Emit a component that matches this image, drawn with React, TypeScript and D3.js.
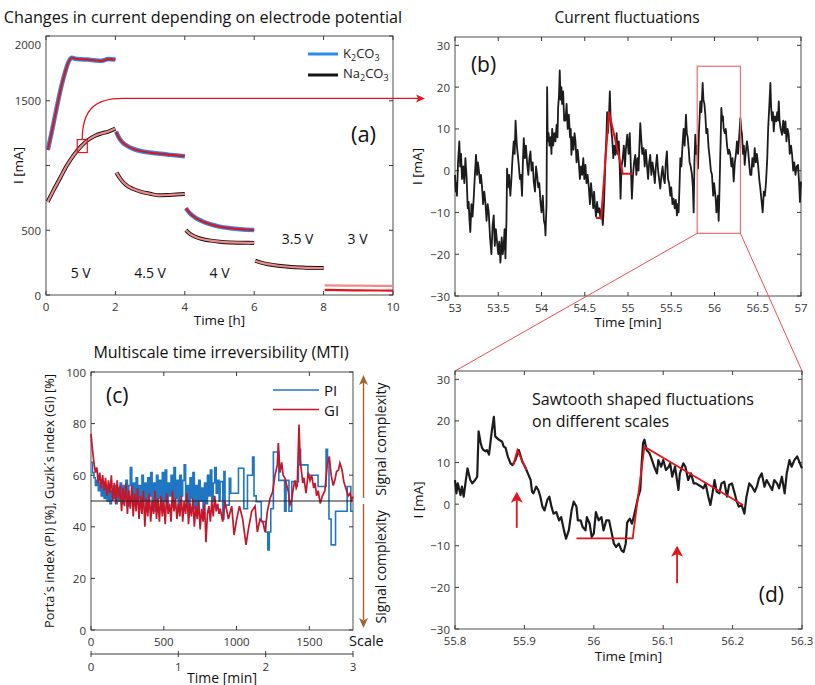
import React from 'react';
import * as d3 from 'd3';

type Pt = [number, number];

const FONT = '"Open Sans", "Noto Sans", "DejaVu Sans", sans-serif';

// ---------- panel (a): current at stepped electrode potentials ----------
const timeTicksA = [0, 2, 4, 6, 8, 10];
const currentTicksA = [0, 500, 1000, 1500, 2000];
const currentLabelsA = ['0', '500', '', '1500', '2000'];
const potentialNames = ['5 V', '4.5 V', '4 V', '3.5 V', '3 V'];

const k2co3_5V: Pt[] = [[0.05, 1119], [0.15, 1240], [0.25, 1370], [0.35, 1500], [0.45, 1620], [0.55, 1720], [0.65, 1800], [0.75, 1832], [0.85, 1824], [1.0, 1820], [1.2, 1818], [1.4, 1812], [1.6, 1808], [1.8, 1822], [2.0, 1818]];
const k2co3_45V: Pt[] = [[2.02, 1262], [2.1, 1215], [2.2, 1180], [2.35, 1150], [2.5, 1130], [2.75, 1110], [3.0, 1100], [3.3, 1090], [3.6, 1082], [4.0, 1072]];
const k2co3_4V: Pt[] = [[4.03, 670], [4.15, 630], [4.3, 598], [4.5, 570], [4.75, 545], [5.0, 528], [5.3, 516], [5.6, 508], [6.0, 502]];
const k2co3_35V: Pt[] = [[6.03, 262], [6.2, 247], [6.4, 235], [6.7, 223], [7.0, 215], [7.4, 209], [8.0, 205]];
const k2co3_3V: Pt[] = [[8.03, 40], [9.0, 36], [10.0, 34]];

const na2co3_5V: Pt[] = [[0.05, 720], [0.2, 800], [0.4, 900], [0.6, 1000], [0.8, 1080], [1.0, 1145], [1.2, 1195], [1.4, 1228], [1.6, 1248], [1.8, 1262], [2.0, 1285]];
const na2co3_45V: Pt[] = [[2.03, 945], [2.15, 895], [2.3, 852], [2.5, 820], [2.75, 796], [3.0, 782], [3.25, 770], [3.5, 772], [3.75, 776], [4.0, 780]];
const na2co3_4V: Pt[] = [[4.03, 500], [4.15, 472], [4.3, 450], [4.5, 432], [4.75, 420], [5.0, 412], [5.3, 406], [5.6, 404], [6.0, 402]];
const na2co3_35V: Pt[] = [[6.03, 265], [6.2, 250], [6.4, 238], [6.7, 226], [7.0, 218], [7.4, 212], [8.0, 208]];
const na2co3_3V: Pt[] = [[8.03, 75], [9.0, 72], [10.0, 70]];

// ---------- panel (b): current fluctuations ----------
const timeTicksB = [53, 53.5, 54, 54.5, 55, 55.5, 56, 56.5, 57];
const currentTicksBD = [-30, -20, -10, 0, 10, 20, 30];
const fluctB: Pt[] = [[53.000,-1],[53.008,-5],[53.015,-3],[53.023,-6],[53.035,2],[53.050,7],[53.060,1],[53.070,4],[53.081,-2],[53.095,1],[53.108,-3],[53.120,3],[53.135,-2],[53.147,-9],[53.158,-7.5],[53.168,-12],[53.177,-14.7],[53.190,-8],[53.203,-11],[53.216,-6.7],[53.230,-1],[53.243,3.8],[53.255,-1],[53.265,2],[53.274,0.5],[53.290,-3],[53.300,-1],[53.313,-4],[53.325,-8],[53.338,-5],[53.351,-7.5],[53.365,-12],[53.378,-8],[53.390,-10],[53.405,-16],[53.421,-20],[53.435,-13],[53.448,-10.7],[53.460,-18],[53.472,-14],[53.486,-17],[53.500,-20],[53.512,-17],[53.525,-22],[53.540,-16],[53.552,-20],[53.563,-18],[53.573,-14],[53.583,-21],[53.595,-12],[53.602,0.5],[53.612,-4],[53.625,-1],[53.640,-6],[53.652,-2],[53.665,3],[53.679,7],[53.690,4],[53.700,12],[53.715,6],[53.725,4],[53.737,1.4],[53.750,-2],[53.762,-1],[53.775,-6],[53.785,2],[53.795,7.8],[53.808,3],[53.820,6],[53.833,2],[53.848,-1],[53.860,3],[53.872,4.6],[53.885,0],[53.898,2],[53.910,-2.6],[53.925,-5],[53.937,1],[53.949,-1],[53.962,-4],[53.975,-3],[53.988,-7.5],[54.000,-10],[54.015,-6],[54.028,-12],[54.040,-13],[54.046,-15.5],[54.058,-8],[54.065,20],[54.072,7],[54.082,9],[54.092,6],[54.105,8],[54.115,4],[54.123,10],[54.135,6],[54.148,9],[54.161,7],[54.175,11],[54.185,8],[54.192,15],[54.202,18],[54.211,24],[54.220,17],[54.230,20],[54.238,16],[54.250,19],[54.262,12],[54.277,12],[54.290,16],[54.303,10],[54.316,13.4],[54.330,8],[54.338,10],[54.346,3.8],[54.358,8],[54.370,5],[54.382,9],[54.393,7],[54.405,2],[54.418,5],[54.431,2],[54.444,-2],[54.457,1],[54.470,-1],[54.483,3],[54.495,-2],[54.508,1.4],[54.520,-3],[54.533,-1],[54.547,-4],[54.560,-8],[54.572,-3],[54.586,-6],[54.598,-9],[54.608,-5],[54.617,-8],[54.630,-11],[54.643,-7.5],[54.655,-10],[54.668,-9],[54.682,-11.5],[54.695,-9],[54.709,-13],[54.722,-8],[54.732,-2],[54.740,3.8],[54.750,8],[54.759,14],[54.768,9],[54.780,13],[54.790,19],[54.800,12],[54.810,9],[54.817,7.8],[54.830,3],[54.842,6],[54.856,3.8],[54.868,9],[54.880,4],[54.894,7],[54.904,1],[54.914,-6.7],[54.925,1],[54.940,3],[54.952,6],[54.965,1],[54.975,5],[54.991,8.6],[55.007,4],[55.020,9],[55.033,1],[55.045,-6.7],[55.058,-1],[55.070,2],[55.084,3.8],[55.097,-1],[55.110,3],[55.122,0],[55.132,6],[55.142,11.4],[55.152,8],[55.165,4],[55.180,5.4],[55.193,1],[55.206,5],[55.219,1.4],[55.232,-2],[55.245,2],[55.257,3.8],[55.270,-1],[55.283,2],[55.296,0],[55.310,-3],[55.322,1],[55.335,3.8],[55.348,0],[55.360,-2],[55.373,-4.3],[55.387,-1],[55.400,1],[55.412,-1.8],[55.425,-3],[55.437,2],[55.450,4.6],[55.462,-2],[55.475,-3],[55.489,-6],[55.500,-4],[55.514,-8],[55.527,-6.7],[55.540,-9],[55.553,-7],[55.566,-10.7],[55.575,-8],[55.585,-10],[55.595,-4],[55.605,3],[55.617,1],[55.630,6],[55.643,10],[55.655,6],[55.670,13.4],[55.680,9],[55.690,8],[55.701,5.4],[55.712,2],[55.725,1],[55.740,-1],[55.750,-4],[55.759,-10],[55.768,2],[55.778,8.6],[55.790,4],[55.800,6],[55.809,0.5],[55.820,9],[55.836,16.6],[55.848,14],[55.863,21],[55.872,17],[55.883,16],[55.894,13.4],[55.905,9],[55.918,10],[55.932,5.4],[55.945,3],[55.958,0],[55.971,-1],[55.985,-6],[55.995,-3],[56.002,-4.3],[56.015,-7],[56.022,-10],[56.029,-8.3],[56.040,-6],[56.048,-12],[56.055,-7],[56.065,2],[56.072,8],[56.079,15],[56.090,12],[56.098,13],[56.106,10],[56.118,9],[56.130,10],[56.145,6],[56.158,4],[56.170,5],[56.183,3.8],[56.195,1],[56.208,3],[56.222,-2.6],[56.235,2],[56.248,4],[56.260,7],[56.272,4],[56.285,8],[56.299,12.6],[56.308,10],[56.318,8.6],[56.330,4],[56.340,6],[56.349,1.4],[56.360,4],[56.375,7],[56.388,5],[56.400,2],[56.413,-1],[56.426,-1],[56.438,3],[56.452,1],[56.465,5.4],[56.478,2],[56.490,4],[56.504,1.4],[56.517,-2],[56.530,-4.3],[56.543,-7],[56.557,-10],[56.570,-5],[56.583,-6],[56.596,-2.6],[56.610,3],[56.620,10],[56.630,14],[56.646,21],[56.655,15],[56.665,12],[56.675,14],[56.685,9.4],[56.698,13],[56.712,11.8],[56.725,14],[56.735,12],[56.743,16.6],[56.752,12],[56.765,10],[56.781,8.6],[56.795,12],[56.808,9],[56.820,11.8],[56.832,7],[56.845,10],[56.858,8.6],[56.870,4],[56.885,6],[56.897,3.8],[56.910,0],[56.922,2],[56.936,-1],[56.950,1],[56.966,1.4],[56.978,-3],[56.988,-7.5],[57.000,-2.6]];
const sawtoothB: Pt[] = [[54.63, -11.3], [54.69, -11.3], [54.78, 14.1], [54.94, -0.75], [55.06, -0.75]];
const zoomWindow = { t0: 55.8, t1: 56.3, i0: -15, i1: 25 };

// ---------- panel (c): multiscale time irreversibility ----------
const scaleTicks = [0, 500, 1000, 1500];
const indexTicks = [0, 20, 40, 60, 80, 100];
const minuteTicks = [0, 1, 2, 3];
const porta: Pt[] = [[0,65],[10,61],[20,59],[30,56],[40,58],[50,54],[60,57],[70,52],[80,56],[90,51],[100,55],[110,50],[120,56],[130,49],[140,54],[150,51],[160,56],[170,49],[180,55],[190,50],[200,57],[210,49],[220,56],[230,51],[240,58],[250,48],[260,56],[270,63],[280,50],[290,57],[300,49],[310,59],[320,51],[330,56],[340,48],[350,60],[360,50],[370,57],[380,47],[390,59],[400,52],[410,61],[420,49],[430,57],[440,46],[450,60],[460,51],[470,58],[480,48],[490,61],[500,50],[510,62],[520,49],[530,57],[540,52],[550,60],[560,48],[570,63],[580,51],[590,58],[600,47],[610,60],[620,52],[630,58],[640,64],[650,50],[660,56],[670,46],[680,59],[690,51],[700,61],[710,47],[720,56],[730,45],[740,58],[750,50],[760,55],[770,44],[780,57],[790,49],[800,60],[810,52],[820,62],[830,50],[840,57],[850,63],[860,53],[870,58],[880,50],[887,57.5],[905,43],[913,61.4],[921,48.4],[950,58.8],[960,53],[1013,62.7],[1050,47],[1075,60],[1110,67],[1120,52],[1135,49.7],[1170,42],[1200,38],[1215,31],[1225,38],[1235,47],[1253,69],[1290,58],[1330,46],[1340,58],[1360,46],[1379,57.5],[1425,64],[1430,70],[1440,64],[1490,60],[1560,55.6],[1615,70],[1625,65],[1635,43],[1650,33],[1680,46],[1760,55.6],[1785,46],[1800,46]];
const guzik: Pt[] = [[0,76],[10,70],[20,65],[30,61],[40,63],[50,57],[60,61],[70,55],[80,60],[90,54],[100,59],[110,52],[120,58],[130,53],[140,60],[150,50],[160,57],[170,49],[180,58],[190,51],[200,56],[210,46],[220,55],[230,48],[240,57],[250,45],[260,54],[270,47],[280,56],[290,44],[300,53],[310,46],[320,55],[330,43],[340,52],[350,45],[360,54],[370,40],[380,51],[390,44],[400,53],[410,42],[420,50],[430,45],[440,54],[450,43],[460,51],[470,42],[480,52],[490,44],[500,50],[510,41],[520,53],[530,45],[540,49],[550,42],[560,54],[570,46],[580,51],[590,43],[600,49],[610,44],[620,52],[630,42],[640,50],[650,45],[660,53],[670,41],[680,49],[690,44],[700,51],[710,40],[720,48],[730,43],[740,50],[750,39],[760,47],[770,42],[780,49],[790,34],[800,45],[810,48],[820,42],[830,50],[840,44],[850,52],[860,46],[870,49],[880,45],[887,47],[905,42],[921,49.7],[944,43],[967,48],[983,36.8],[1001,43],[1020,48],[1042,43],[1065,33],[1081,39],[1104,46],[1127,48],[1143,38],[1161,43],[1180,42],[1196,38],[1212,46],[1230,51],[1248,53.6],[1264,60],[1280,64],[1287,72.5],[1298,61],[1310,65],[1320,60],[1333,58.8],[1345,56],[1356,53.6],[1367,48.5],[1378,50],[1390,55],[1401,58],[1410,55],[1417,56],[1429,79.6],[1437,66],[1447,61],[1455,57],[1463,59],[1477,53],[1493,61],[1505,58],[1516,60],[1530,55],[1539,57],[1550,52],[1561,54],[1575,49],[1590,52],[1607,54],[1623,64],[1637,67.3],[1650,60],[1664,56],[1675,58],[1687,61.4],[1700,62],[1710,64.7],[1725,62],[1737,57.5],[1750,55],[1767,52],[1780,53],[1790,50.4],[1800,51.7]];

// ---------- panel (d): zoomed fluctuations ----------
const timeTicksD = [55.8, 55.9, 56, 56.1, 56.2, 56.3];
const fluctD: Pt[] = [[55.800,5.8],[55.802,2.6],[55.804,5],[55.808,2.2],[55.810,4.2],[55.8125,1.8],[55.815,5],[55.818,8.6],[55.822,5.8],[55.825,5],[55.829,5.8],[55.832,6.6],[55.834,17.5],[55.837,14.7],[55.839,13.5],[55.841,13],[55.844,12.7],[55.846,13],[55.849,11.9],[55.851,14.7],[55.853,17.5],[55.856,21],[55.858,16.3],[55.863,15.5],[55.868,15],[55.870,13.9],[55.873,13.5],[55.876,11.5],[55.880,9.8],[55.883,9.4],[55.887,10.6],[55.892,13],[55.897,10.2],[55.901,9],[55.905,7.4],[55.909,5.8],[55.911,3],[55.913,2.6],[55.917,4.2],[55.920,3.4],[55.923,1.8],[55.926,-0.6],[55.929,-1.5],[55.933,1],[55.936,1.8],[55.939,-0.6],[55.942,-2.3],[55.946,-1.9],[55.950,-3.9],[55.953,-3.1],[55.957,-6.3],[55.960,-8.3],[55.964,-6.3],[55.968,-1.5],[55.971,0.6],[55.975,-0.6],[55.977,-3.9],[55.981,-3.9],[55.984,-5.5],[55.988,-6.3],[55.990,-3.1],[55.994,-4.7],[55.997,-7.9],[56.000,-7.1],[56.003,-1.9],[56.007,-3.9],[56.011,-3.1],[56.014,-6.3],[56.018,-3.9],[56.022,-3.9],[56.025,-6.3],[56.029,-9.5],[56.032,-10.3],[56.036,-9.5],[56.040,-11.1],[56.043,-11.5],[56.046,-9.5],[56.048,-4.5],[56.050,-3.9],[56.052,-3.5],[56.055,-4.7],[56.058,-2.7],[56.062,0.2],[56.064,1.8],[56.067,3.4],[56.069,9.8],[56.071,14.7],[56.073,15.5],[56.076,13],[56.080,12.3],[56.083,11],[56.087,9],[56.091,7.4],[56.093,10.6],[56.097,9],[56.100,10.6],[56.104,8.2],[56.108,9],[56.110,9.8],[56.113,6.6],[56.117,9],[56.122,3.4],[56.124,7.4],[56.129,9.8],[56.132,9],[56.136,5.8],[56.140,7.4],[56.144,5],[56.147,5],[56.151,4.6],[56.155,4.2],[56.158,3.8],[56.161,5],[56.165,1.8],[56.168,-0.2],[56.171,2.6],[56.174,5.8],[56.177,3],[56.181,2.6],[56.184,5],[56.188,5.4],[56.192,1.8],[56.195,4.6],[56.199,5],[56.203,2.6],[56.206,0.6],[56.209,-0.6],[56.213,-0.2],[56.217,-2.3],[56.220,1.8],[56.224,5],[56.228,4.2],[56.232,3],[56.235,4.2],[56.238,6.2],[56.242,7.4],[56.246,4.2],[56.249,5.8],[56.253,4.6],[56.257,3.4],[56.260,5.8],[56.264,5],[56.267,3.8],[56.271,6.6],[56.275,2.6],[56.278,7.4],[56.282,10.6],[56.285,9],[56.289,10.6],[56.293,11.5],[56.296,10.2],[56.300,8.6]];
const smallToothD: Pt[] = [[55.884, 9.4], [55.89, 13], [55.903, 8.2]];
const bigToothD: Pt[] = [[55.975, -8.2], [56.056, -8.2], [56.073, 13.8], [56.215, -0.2]];
const arrowsD = [{ t: 55.889, from: -5.7, to: 3 }, { t: 56.12, from: -19, to: -10 }];

// ---------- layout ----------
const boxA = { l: 46, r: 393, t: 36, b: 295 };
const boxB = { l: 455, r: 801, t: 37, b: 296 };
const boxC = { l: 91, r: 353, t: 372, b: 630 };
const boxD = { l: 455, r: 802, t: 371, b: 629 };

const xA = d3.scaleLinear().domain([0, 10]).range([boxA.l, boxA.r]);
const yA = d3.scaleLinear().domain([0, 2000]).range([boxA.b, boxA.t]);
const xB = d3.scaleLinear().domain([53, 57]).range([boxB.l, boxB.r]);
const yB = d3.scaleLinear().domain([-30, 32]).range([boxB.b, boxB.t]);
const xC = d3.scaleLinear().domain([0, 1800]).range([boxC.l, boxC.r]);
const yC = d3.scaleLinear().domain([0, 100]).range([boxC.b, boxC.t]);
const tC = d3.scaleLinear().domain([0, 3]).range([boxC.l, boxC.r]);
const xD = d3.scaleLinear().domain([55.8, 56.3]).range([boxD.l, boxD.r]);
const yD = d3.scaleLinear().domain([-30, 32]).range([boxD.b, boxD.t]);

const fmt = (v: number) => (v < 0 ? '\u2212' + Math.abs(v) : String(v));
const AX = '#3a3a3a';
const RED = '#e3141b';

const lineOf = (x: any, y: any, curve: any = d3.curveLinear) =>
  d3.line<Pt>().x(d => x(d[0])).y(d => y(d[1])).curve(curve);

function Frame({ x, y, xTicks, yTicks, yLabels, yLabelDy = {} }: any) {
  const [l, r] = x.range();
  const [b, t] = y.range();
  const tk = 4;
  return (
    <g fontFamily={FONT}>
      <rect x={l} y={t} width={r - l} height={b - t} fill="none" stroke={AX} strokeWidth={0.9} />
      {xTicks.map((v: number) => (
        <g key={'x' + v}>
          <line x1={x(v)} x2={x(v)} y1={b} y2={b - tk} stroke={AX} />
          <line x1={x(v)} x2={x(v)} y1={t} y2={t + tk} stroke={AX} />
          <text x={x(v)} y={b + 11} textAnchor="middle" dominantBaseline="central" fontSize={11.5} fill="#333">{fmt(v)}</text>
        </g>
      ))}
      {yTicks.map((v: number, i: number) => (
        <g key={'y' + v}>
          <line x1={l} x2={l + tk} y1={y(v)} y2={y(v)} stroke={AX} />
          <line x1={r} x2={r - tk} y1={y(v)} y2={y(v)} stroke={AX} />
          <text x={l - 5} y={y(v) + (yLabelDy[v] || 0)} textAnchor="end" dominantBaseline="central" fontSize={11.5} fill="#333">{yLabels ? yLabels[i] : fmt(v)}</text>
        </g>
      ))}
    </g>
  );
}

function arrowHead(x: number, y: number, dir: 'up' | 'down' | 'right', len: number, half: number) {
  if (dir === 'up') return `M${x},${y}L${x - half},${y + len}L${x},${y + len * 0.75}L${x + half},${y + len}Z`;
  if (dir === 'down') return `M${x},${y}L${x - half},${y - len}L${x},${y - len * 0.75}L${x + half},${y - len}Z`;
  return `M${x},${y}L${x - len},${y - half}L${x - len * 0.75},${y}L${x - len},${y + half}Z`;
}

function Formula({ base, x, y }: { base: string; x: number; y: number }) {
  return (
    <text x={x} y={y} fontSize={13} fill="#222" dominantBaseline="central" fontFamily={FONT}>
      {base}<tspan dy={4} fontSize={9}>2</tspan><tspan dy={-4}>CO</tspan><tspan dy={4} fontSize={9}>3</tspan>
    </text>
  );
}

export default function App() {
  const kSegs = [k2co3_5V, k2co3_45V, k2co3_4V, k2co3_35V, k2co3_3V];
  const nSegs = [na2co3_5V, na2co3_45V, na2co3_4V, na2co3_35V, na2co3_3V];
  const smooth = lineOf(xA, yA, d3.curveMonotoneX);
  const potentialSpots: Pt[] = [[1.0, 170], [3.0, 170], [5.0, 170], [7.25, 440], [8.98, 440]];

  // connector from the small square in (a) to panel (b)
  const sqX0 = xA(0.9), sqX1 = xA(1.19), sqY0 = yA(1200), sqY1 = yA(1100);
  const cx = (sqX0 + sqX1) / 2;
  const hy = yA(1518);
  const arrowTip = xB(53) - 30;
  const connector = `M${cx},${sqY0}C${cx},${hy + 12} ${cx + 12},${hy} ${xA(2.2)},${hy}L${arrowTip - 6},${hy}`;

  const brownX = boxC.r + 10.5;
  const BROWN = '#a2642f';

  return (
    <svg width={815} height={685} style={{ position: 'absolute', left: 0, top: 0, background: '#fff' }} fontFamily={FONT}>
      {/* ===== (a) ===== */}
      <text x={203} y={17} textAnchor="middle" dominantBaseline="central" fontSize={16.2} fill="#111">Changes in current depending on electrode potential</text>
      <Frame x={xA} y={yA} xTicks={timeTicksA} yTicks={currentTicksA} yLabels={currentLabelsA} yLabelDy={{ 2000: 8 }} />
      {kSegs.slice(0, 3).map((s, i) => (
        <path key={'kr' + i} d={smooth(s) || ''} fill="none" stroke="#2b8be6" strokeWidth={4.5} />
      ))}
      {kSegs.map((s, i) => (
        <path key={'kf' + i} d={smooth(s) || ''} fill="none" stroke={RED} strokeWidth={2.2} />
      ))}
      {nSegs.slice(0, 4).map((s, i) => (
        <path key={'nr' + i} d={smooth(s) || ''} fill="none" stroke="#141414" strokeWidth={4} />
      ))}
      {nSegs.map((s, i) => (
        <path key={'nf' + i} d={smooth(s) || ''} fill="none" stroke="#f08a88" strokeWidth={2.2} />
      ))}
      {potentialNames.map((n, i) => (
        <text key={n} x={xA(potentialSpots[i][0])} y={yA(potentialSpots[i][1])} textAnchor="middle" dominantBaseline="central" fontSize={14} fill="#111">{n}</text>
      ))}
      <text x={xA(9.15)} y={yA(1250)} textAnchor="middle" dominantBaseline="central" fontSize={22} fill="#111">(a)</text>
      <line x1={boxA.r - 85} x2={boxA.r - 55} y1={boxA.t + 18} y2={boxA.t + 18} stroke="#2b8be6" strokeWidth={3} />
      <line x1={boxA.r - 85} x2={boxA.r - 55} y1={boxA.t + 39} y2={boxA.t + 39} stroke="#141414" strokeWidth={3} />
      <Formula base="K" x={boxA.r - 50} y={boxA.t + 17} />
      <Formula base="Na" x={boxA.r - 50} y={boxA.t + 37} />
      <text x={xA(5)} y={boxA.b + 25} textAnchor="middle" dominantBaseline="central" fontSize={13.5} fill="#111">Time [h]</text>
      <text transform={`translate(${boxA.l - 28},${(boxA.t + boxA.b) / 2}) rotate(-90)`} textAnchor="middle" dominantBaseline="central" fontSize={13.5} fill="#111">I [mA]</text>
      <rect x={sqX0} y={sqY0} width={sqX1 - sqX0} height={sqY1 - sqY0} fill="none" stroke={RED} strokeWidth={1.2} />
      <path d={connector} fill="none" stroke={RED} strokeWidth={1.3} />
      <path d={arrowHead(arrowTip, hy, 'right', 9, 4)} fill={RED} />

      {/* ===== (b) ===== */}
      <text x={627} y={17} textAnchor="middle" dominantBaseline="central" fontSize={15.5} fill="#111">Current fluctuations</text>
      <Frame x={xB} y={yB} xTicks={timeTicksB} yTicks={currentTicksBD} />
      <path d={lineOf(xB, yB)(fluctB) || ''} fill="none" stroke="#1c1c1c" strokeWidth={1.8} strokeLinejoin="round" />
      <path d={lineOf(xB, yB)(sawtoothB) || ''} fill="none" stroke={RED} strokeWidth={2} />
      <rect x={xB(zoomWindow.t0)} y={yB(zoomWindow.i1)} width={xB(zoomWindow.t1) - xB(zoomWindow.t0)} height={yB(zoomWindow.i0) - yB(zoomWindow.i1)} fill="none" stroke="#f06a72" strokeWidth={1.2} />
      <line x1={xB(zoomWindow.t0)} y1={yB(zoomWindow.i0)} x2={xD(55.8)} y2={yD(32)} stroke="#e8505a" strokeWidth={1} />
      <line x1={xB(zoomWindow.t1)} y1={yB(zoomWindow.i0)} x2={xD(56.3)} y2={yD(32)} stroke="#e8505a" strokeWidth={1} />
      <text x={xB(53.33)} y={yB(25.5)} textAnchor="middle" dominantBaseline="central" fontSize={21} fill="#111">(b)</text>
      <text x={xB(55)} y={boxB.b + 26} textAnchor="middle" dominantBaseline="central" fontSize={13.5} fill="#111">Time [min]</text>
      <text transform={`translate(${boxB.l - 38},${(boxB.t + boxB.b) / 2}) rotate(-90)`} textAnchor="middle" dominantBaseline="central" fontSize={13.5} fill="#111">I [mA]</text>

      {/* ===== (c) ===== */}
      <text x={221} y={352} textAnchor="middle" dominantBaseline="central" fontSize={16} fill="#111">Multiscale time irreversibility (MTI)</text>
      <Frame x={xC} y={yC} xTicks={scaleTicks} yTicks={indexTicks} />
      <path d={lineOf(xC, yC, d3.curveStepAfter)(porta) || ''} fill="none" stroke="#1f77c4" strokeWidth={1.6} />
      <path d={lineOf(xC, yC)(guzik) || ''} fill="none" stroke="#c4172c" strokeWidth={1.7} />
      <line x1={boxC.l} x2={boxC.r} y1={yC(50)} y2={yC(50)} stroke="#222" strokeWidth={1.1} />
      <line x1={boxC.r - 80} x2={boxC.r - 34} y1={boxC.t + 18} y2={boxC.t + 18} stroke="#1f77c4" strokeWidth={1.6} />
      <line x1={boxC.r - 80} x2={boxC.r - 34} y1={boxC.t + 37.5} y2={boxC.t + 37.5} stroke="#c4172c" strokeWidth={1.6} />
      <text x={boxC.r - 29} y={boxC.t + 18} dominantBaseline="central" fontSize={15} fill="#111">PI</text>
      <text x={boxC.r - 29} y={boxC.t + 37.5} dominantBaseline="central" fontSize={15} fill="#111">GI</text>
      <text x={xC(180)} y={yC(91)} textAnchor="middle" dominantBaseline="central" fontSize={21} fill="#111">(c)</text>
      <text x={boxC.r - 4} y={boxC.b + 10} dominantBaseline="central" fontSize={14.5} fill="#111">Scale</text>
      <text transform={`translate(${boxC.l - 42},${(boxC.t + boxC.b) / 2}) rotate(-90)`} textAnchor="middle" dominantBaseline="central" fontSize={12.8} fill="#111">Porta´s index (PI) [%], Guzik´s index (GI) [%]</text>
      {/* brown complexity arrows */}
      <line x1={brownX} x2={brownX} y1={yC(50) - 3} y2={yC(100) + 10} stroke={BROWN} strokeWidth={1.4} />
      <path d={arrowHead(brownX, yC(100) + 3, 'up', 10, 4.5)} fill={BROWN} />
      <line x1={brownX} x2={brownX} y1={yC(50) + 3} y2={yC(0) - 10} stroke={BROWN} strokeWidth={1.4} />
      <path d={arrowHead(brownX, yC(0) - 2, 'down', 10, 4.5)} fill={BROWN} />
      <text transform={`translate(${brownX + 17},${yC(74)}) rotate(-90)`} textAnchor="middle" dominantBaseline="central" fontSize={14} fill="#111">Signal complexity</text>
      <text transform={`translate(${brownX + 17},${yC(24.5)}) rotate(-90)`} textAnchor="middle" dominantBaseline="central" fontSize={14} fill="#111">Signal complexity</text>
      {/* time axis below */}
      <line x1={tC(0)} x2={tC(3)} y1={boxC.b + 24} y2={boxC.b + 24} stroke={AX} strokeWidth={1} />
      {minuteTicks.map(m => (
        <g key={'m' + m}>
          <line x1={tC(m)} x2={tC(m)} y1={boxC.b + 21} y2={boxC.b + 27} stroke={AX} strokeWidth={1} />
          <text x={tC(m)} y={boxC.b + 36} textAnchor="middle" dominantBaseline="central" fontSize={11.5} fill="#333">{m}</text>
        </g>
      ))}
      <text x={tC(1.5)} y={boxC.b + 47} textAnchor="middle" dominantBaseline="central" fontSize={14} fill="#111">Time [min]</text>

      {/* ===== (d) ===== */}
      <Frame x={xD} y={yD} xTicks={timeTicksD} yTicks={currentTicksBD} />
      <path d={lineOf(xD, yD)(fluctD) || ''} fill="none" stroke="#1c1c1c" strokeWidth={2.2} strokeLinejoin="round" />
      <path d={lineOf(xD, yD)(smallToothD) || ''} fill="none" stroke={RED} strokeWidth={1.8} />
      <path d={lineOf(xD, yD)(bigToothD) || ''} fill="none" stroke={RED} strokeWidth={1.8} />
      {arrowsD.map((a, i) => (
        <g key={'ar' + i}>
          <line x1={xD(a.t)} x2={xD(a.t)} y1={yD(a.from)} y2={yD(a.to) + 8} stroke={RED} strokeWidth={1.8} />
          <path d={arrowHead(xD(a.t), yD(a.to), 'up', 11, 6)} fill={RED} />
        </g>
      ))}
      <text x={xD(55.911)} y={yD(25.3)} dominantBaseline="central" fontSize={16} fill="#111">Sawtooth shaped fluctuations</text>
      <text x={xD(55.911)} y={yD(20.1)} dominantBaseline="central" fontSize={16} fill="#111">on different scales</text>
      <text x={xD(56.256)} y={yD(-21.5)} textAnchor="middle" dominantBaseline="central" fontSize={21} fill="#111">(d)</text>
      <text x={xD(56.05)} y={boxD.b + 27} textAnchor="middle" dominantBaseline="central" fontSize={13.5} fill="#111">Time [min]</text>
      <text transform={`translate(${boxD.l - 37},${(boxD.t + boxD.b) / 2}) rotate(-90)`} textAnchor="middle" dominantBaseline="central" fontSize={13.5} fill="#111">I [mA]</text>
    </svg>
  );
}
